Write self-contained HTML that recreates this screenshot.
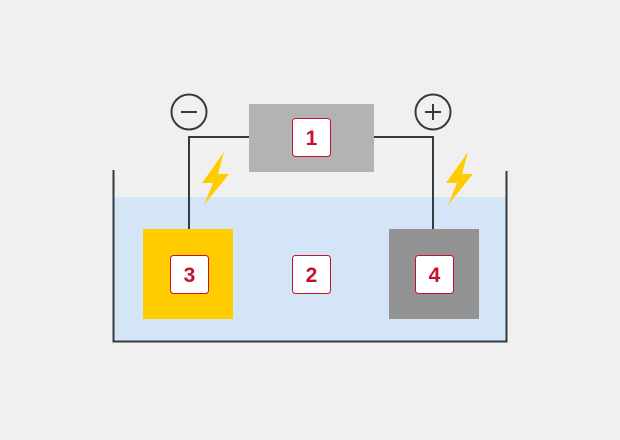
<!DOCTYPE html>
<html><head><style>
html,body{margin:0;padding:0;background:#f0f0f0;}
svg{display:block}
text{font-family:"Liberation Sans","DejaVu Sans",sans-serif;}
</style></head><body>
<svg width="620" height="440" viewBox="0 0 620 440" xmlns="http://www.w3.org/2000/svg">
<rect width="620" height="440" fill="#f0f0f0"/>
<rect x="114" y="197" width="392" height="144" fill="#d3e5f6"/>
<polyline points="113.5,170 113.5,341.5 506.5,341.5 506.5,171" fill="none" stroke="#333a40" stroke-width="2"/>
<polyline points="189,229 189,137 249,137" fill="none" stroke="#333a40" stroke-width="2"/>
<polyline points="374,137 433,137 433,229" fill="none" stroke="#333a40" stroke-width="2"/>
<rect x="249" y="104" width="125" height="68" fill="#b3b3b3"/>
<rect x="143" y="229" width="90" height="90" fill="#ffcc00"/>
<rect x="389" y="229" width="90" height="90" fill="#939393"/>
<circle cx="189" cy="112" r="17.5" fill="none" stroke="#333a40" stroke-width="2"/>
<line x1="181" y1="112" x2="197" y2="112" stroke="#333a40" stroke-width="2"/>
<circle cx="433" cy="112" r="17.5" fill="none" stroke="#333a40" stroke-width="2"/>
<line x1="425" y1="112" x2="441" y2="112" stroke="#333a40" stroke-width="2"/>
<line x1="433" y1="104" x2="433" y2="120" stroke="#333a40" stroke-width="2"/>
<polygon points="224,152 202,183 213,183 204,205 229,174 218,174" fill="#ffcc00"/>
<polygon points="468,152 446,183 457,183 448,205 473,174 462,174" fill="#ffcc00"/>
<g fill="#fff" stroke="#c8102e" stroke-width="1">
<rect x="292.5" y="118.5" width="38" height="38" rx="3"/>
<rect x="292.5" y="255.5" width="38" height="38" rx="3"/>
<rect x="170.5" y="255.5" width="38" height="38" rx="3"/>
<rect x="415.5" y="255.5" width="38" height="38" rx="3"/>
</g>
<g fill="#c8102e" font-size="21" font-weight="bold" text-anchor="middle">
<text x="311.5" y="145">1</text>
<text x="311.5" y="282">2</text>
<text x="189.5" y="282">3</text>
<text x="434.5" y="282">4</text>
</g>
</svg>
</body></html>
